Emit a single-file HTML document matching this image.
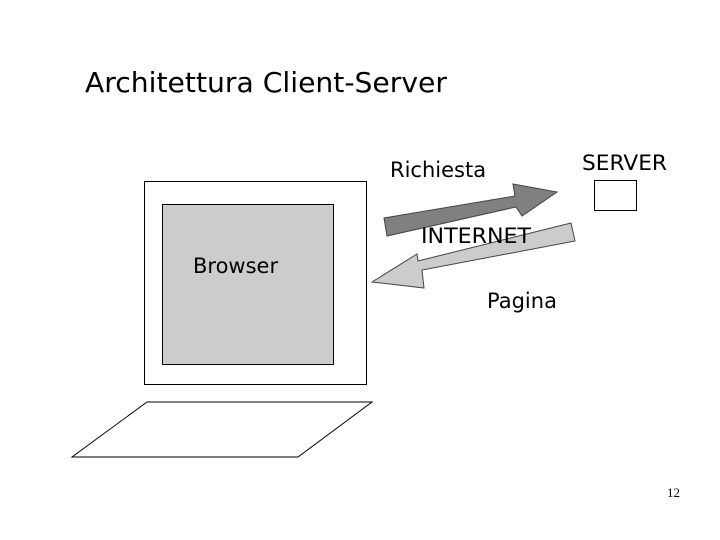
<!DOCTYPE html><html><head><style>body{margin:0}</style></head><body>
<svg width="720" height="540" xmlns="http://www.w3.org/2000/svg" style="display:block;background:#fff">
<g font-family="DejaVu Sans, sans-serif" fill="#000">
<text x="85" y="92" font-size="28" textLength="362" lengthAdjust="spacingAndGlyphs">Architettura Client-Server</text>
<rect x="144.5" y="181.5" width="222" height="203" fill="#fff" stroke="#000"/>
<rect x="162.5" y="204.5" width="171" height="160" fill="#ccc" stroke="#000"/>
<polygon points="147,402 372,402 298,457 72,457" fill="#fff" stroke="#000"/>
<rect x="594.5" y="180.5" width="42" height="30" fill="#fff" stroke="#000"/>
<polygon points="384,218 515,196 513,184 557,192 522,216 516,207 387,236" fill="#808080" stroke="#444"/>
<polygon points="571,223 575,241 422,270 424,288 372,282 417,254 418,261" fill="#ccc" stroke="#444"/>
<text x="390" y="177" font-size="21">Richiesta</text>
<text x="582" y="170" font-size="21" textLength="85" lengthAdjust="spacingAndGlyphs">SERVER</text>
<text x="421" y="243" font-size="21" textLength="110" lengthAdjust="spacingAndGlyphs">INTERNET</text>
<text x="193" y="273" font-size="21">Browser</text>
<text x="487" y="308" font-size="21">Pagina</text>
<text x="667" y="497" font-size="13" font-family="Liberation Serif, serif">12</text>
</g></svg></body></html>
